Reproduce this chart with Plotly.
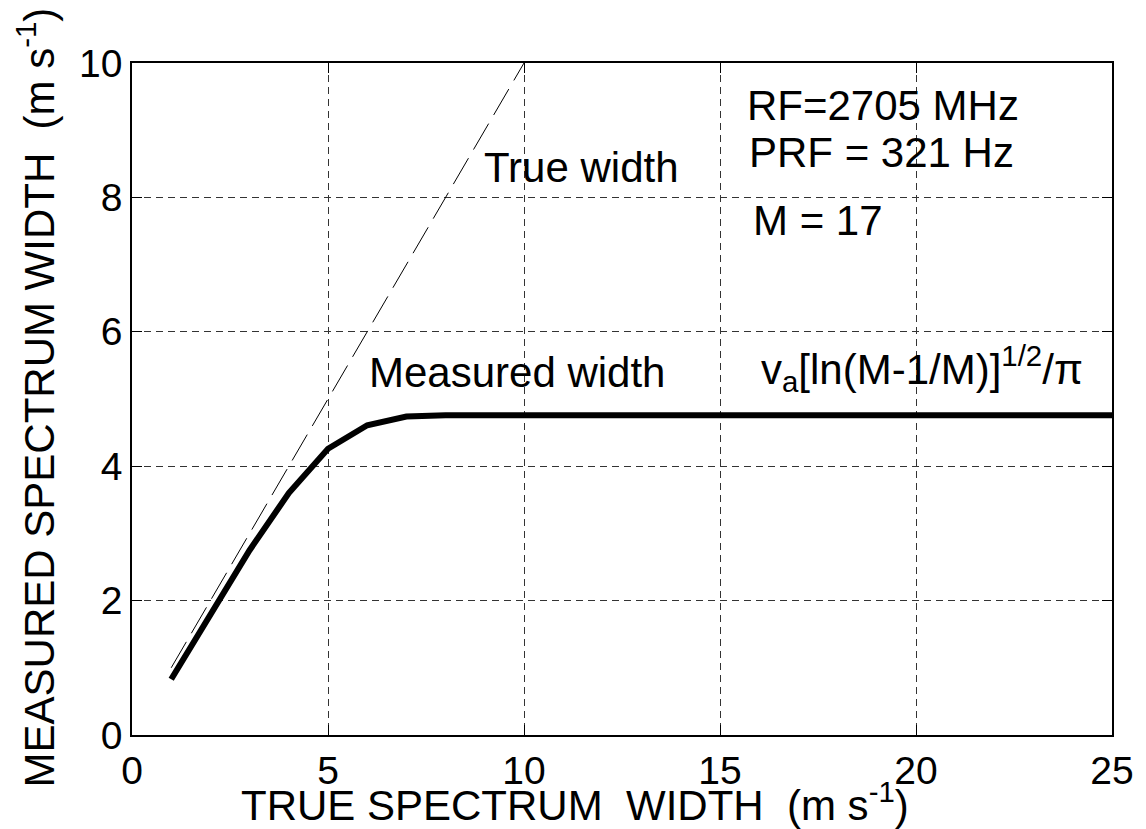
import plotly.graph_objects as go

true_x = [1, 10]
true_y = [1, 10]
meas_x = [1, 2, 3, 4, 5, 6, 7, 8, 9, 10, 15, 20, 25]
meas_y = [0.83, 1.8, 2.75, 3.6, 4.26, 4.61, 4.74, 4.76, 4.76, 4.76, 4.76, 4.76, 4.76]
x_ticks = [0, 5, 10, 15, 20, 25]
y_ticks = [0, 2, 4, 6, 8, 10]

FONT = "Liberation Sans, Arial, sans-serif"
TICK_SIZE = 39
TEXT_SIZE = 42

fig = go.Figure()
fig.add_trace(go.Scatter(x=true_x, y=true_y, mode="lines",
                         line=dict(color="black", width=1, dash="30px,10px"),
                         showlegend=False))
fig.add_trace(go.Scatter(x=meas_x, y=meas_y, mode="lines",
                         line=dict(color="black", width=6),
                         showlegend=False))

axis_common = dict(showline=True, linecolor="black", linewidth=1.5, mirror="ticks",
                   ticks="inside", ticklen=10, tickcolor="black", tickwidth=1,
                   showgrid=True, gridcolor="#333333", gridwidth=1, griddash="7px,5px",
                   zeroline=False, tickfont=dict(family=FONT, size=TICK_SIZE, color="black"))

fig.update_xaxes(range=[0, 25], tickvals=x_ticks, ticktext=[str(v) for v in x_ticks], **axis_common)
fig.update_yaxes(range=[0, 10], tickvals=y_ticks, ticktext=[str(v) for v in y_ticks], **axis_common)

def ann(x, y, text, xanchor="center"):
    fig.add_annotation(x=x, y=y, xref="x", yref="y", text=text, showarrow=False,
                       xanchor=xanchor, font=dict(family=FONT, size=TEXT_SIZE, color="black"))

ann(11.47, 8.45, "True width")
ann(9.82, 5.40, "Measured width")
ann(19.17, 9.375, "RF=2705 MHz")
ann(19.11, 8.67, "PRF = 321 Hz")
ann(17.49, 7.66, "M = 17")
ann(20.15, 5.45, "v<sub>a</sub>[ln(M-1/M)]<sup>1/2</sup>/π")

fig.add_annotation(x=0.1096, y=-0.1, xref="paper", yref="paper", showarrow=False,
                   text="TRUE SPECTRUM  WIDTH  (m s<sup>-1</sup>)", xanchor="left",
                   yanchor="middle",
                   font=dict(family=FONT, size=TEXT_SIZE, color="black"))
fig.add_annotation(x=-0.0975, y=0.503, xref="paper", yref="paper", showarrow=False,
                   text="MEASURED SPECTRUM WIDTH  (m s<sup>-1</sup>)", textangle=-90,
                   xanchor="center", yanchor="middle",
                   font=dict(family=FONT, size=TEXT_SIZE, color="black"))

fig.update_layout(width=1146, height=829, plot_bgcolor="white", paper_bgcolor="white",
                  margin=dict(l=132, r=29, t=63, b=94), showlegend=False)

fig.write_html("out.html")
